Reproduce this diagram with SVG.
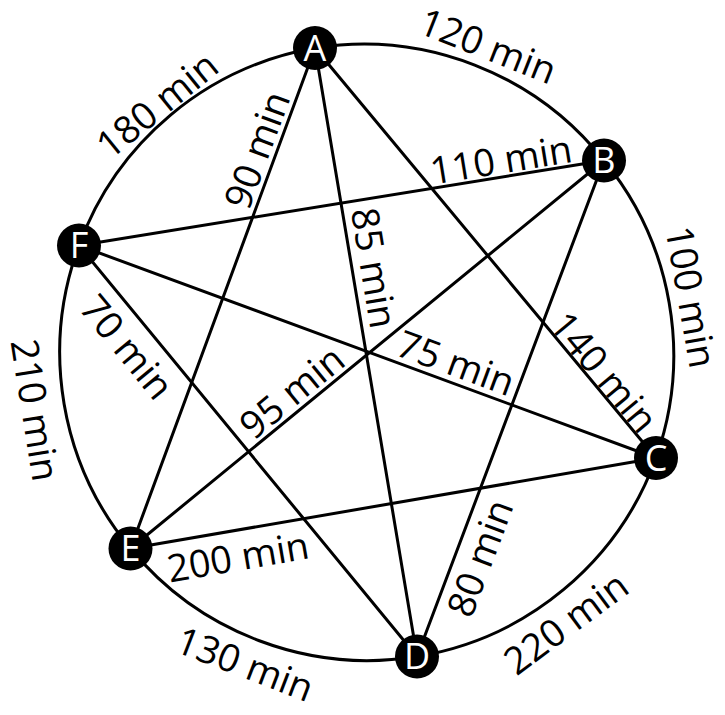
<svg xmlns="http://www.w3.org/2000/svg" width="725" height="715" viewBox="0 0 725 715">
<style>
.edge{fill:none;stroke:#000;stroke-width:3;stroke-linecap:round}
.node circle{fill:#000}
.node text{fill:#fff;font-family:"Open Sans","DejaVu Sans",sans-serif;font-size:36px;text-anchor:middle}
.lbl{fill:#000;font-family:"Open Sans","DejaVu Sans",sans-serif;font-size:38px;text-anchor:middle}
</style>
<rect width="725" height="715" fill="#fff"/>
<g id="connectors">
<path class="edge" d="M315,48 A307,307 0 0 1 604,160.5"/>
<path class="edge" d="M604,160.5 A307,307 0 0 1 656,458"/>
<path class="edge" d="M656,458 A307,307 0 0 1 417,656.5"/>
<path class="edge" d="M417,656.5 A307,307 0 0 1 130.5,548.5"/>
<path class="edge" d="M130.5,548.5 A307,307 0 0 1 79,245.5"/>
<path class="edge" d="M79,245.5 A307,307 0 0 1 315,48"/>
<line class="edge" x1="315" y1="48" x2="130.5" y2="548.5"/>
<line class="edge" x1="315" y1="48" x2="417" y2="656.5"/>
<line class="edge" x1="315" y1="48" x2="656" y2="458"/>
<line class="edge" x1="604" y1="160.5" x2="79" y2="245.5"/>
<line class="edge" x1="604" y1="160.5" x2="130.5" y2="548.5"/>
<line class="edge" x1="604" y1="160.5" x2="417" y2="656.5"/>
<line class="edge" x1="656" y1="458" x2="79" y2="245.5"/>
<line class="edge" x1="656" y1="458" x2="130.5" y2="548.5"/>
<line class="edge" x1="417" y1="656.5" x2="79" y2="245.5"/>
</g>
<g id="labels">
<text class="lbl" transform="translate(488,46) rotate(21.5)" y="13.5">120 min</text>
<text class="lbl" transform="translate(157,105) rotate(-39)" y="13.5">180 min</text>
<text class="lbl" transform="translate(257,150) rotate(-69.7)" y="13.5">90 min</text>
<text class="lbl" transform="translate(501,160) rotate(-9.25)" y="13.5">110 min</text>
<text class="lbl" transform="translate(374,268) rotate(80.5)" y="13.5">85 min</text>
<text class="lbl" transform="translate(691,297) rotate(80)" y="13.5">100 min</text>
<text class="lbl" transform="translate(604,372) rotate(50.2)" y="13.5">140 min</text>
<text class="lbl" transform="translate(127,347) rotate(50.6)" y="13.5">70 min</text>
<text class="lbl" transform="translate(35,410) rotate(81)" y="13.5">210 min</text>
<text class="lbl" transform="translate(456,363) rotate(20.2)" y="13.5">75 min</text>
<text class="lbl" transform="translate(292,392) rotate(-39.3)" y="13.5">95 min</text>
<text class="lbl" transform="translate(480,558) rotate(-69.3)" y="13.5">80 min</text>
<text class="lbl" transform="translate(566,623) rotate(-36.5)" y="13.5">220 min</text>
<text class="lbl" transform="translate(238,557) rotate(-9.8)" y="13.5">200 min</text>
<text class="lbl" transform="translate(245,664) rotate(21)" y="13.5">130 min</text>
</g>
<g id="node-A" class="node"><circle cx="315" cy="48" r="22"/><text x="315" y="60.8">A</text></g>
<g id="node-B" class="node"><circle cx="604" cy="160.5" r="22"/><text x="604" y="173.3">B</text></g>
<g id="node-C" class="node"><circle cx="656" cy="458" r="22"/><text x="656" y="470.8">C</text></g>
<g id="node-D" class="node"><circle cx="417" cy="656.5" r="22"/><text x="417" y="669.3">D</text></g>
<g id="node-E" class="node"><circle cx="130.5" cy="548.5" r="22"/><text x="130.5" y="561.3">E</text></g>
<g id="node-F" class="node"><circle cx="79" cy="245.5" r="22"/><text x="79" y="258.3">F</text></g>
</svg>
